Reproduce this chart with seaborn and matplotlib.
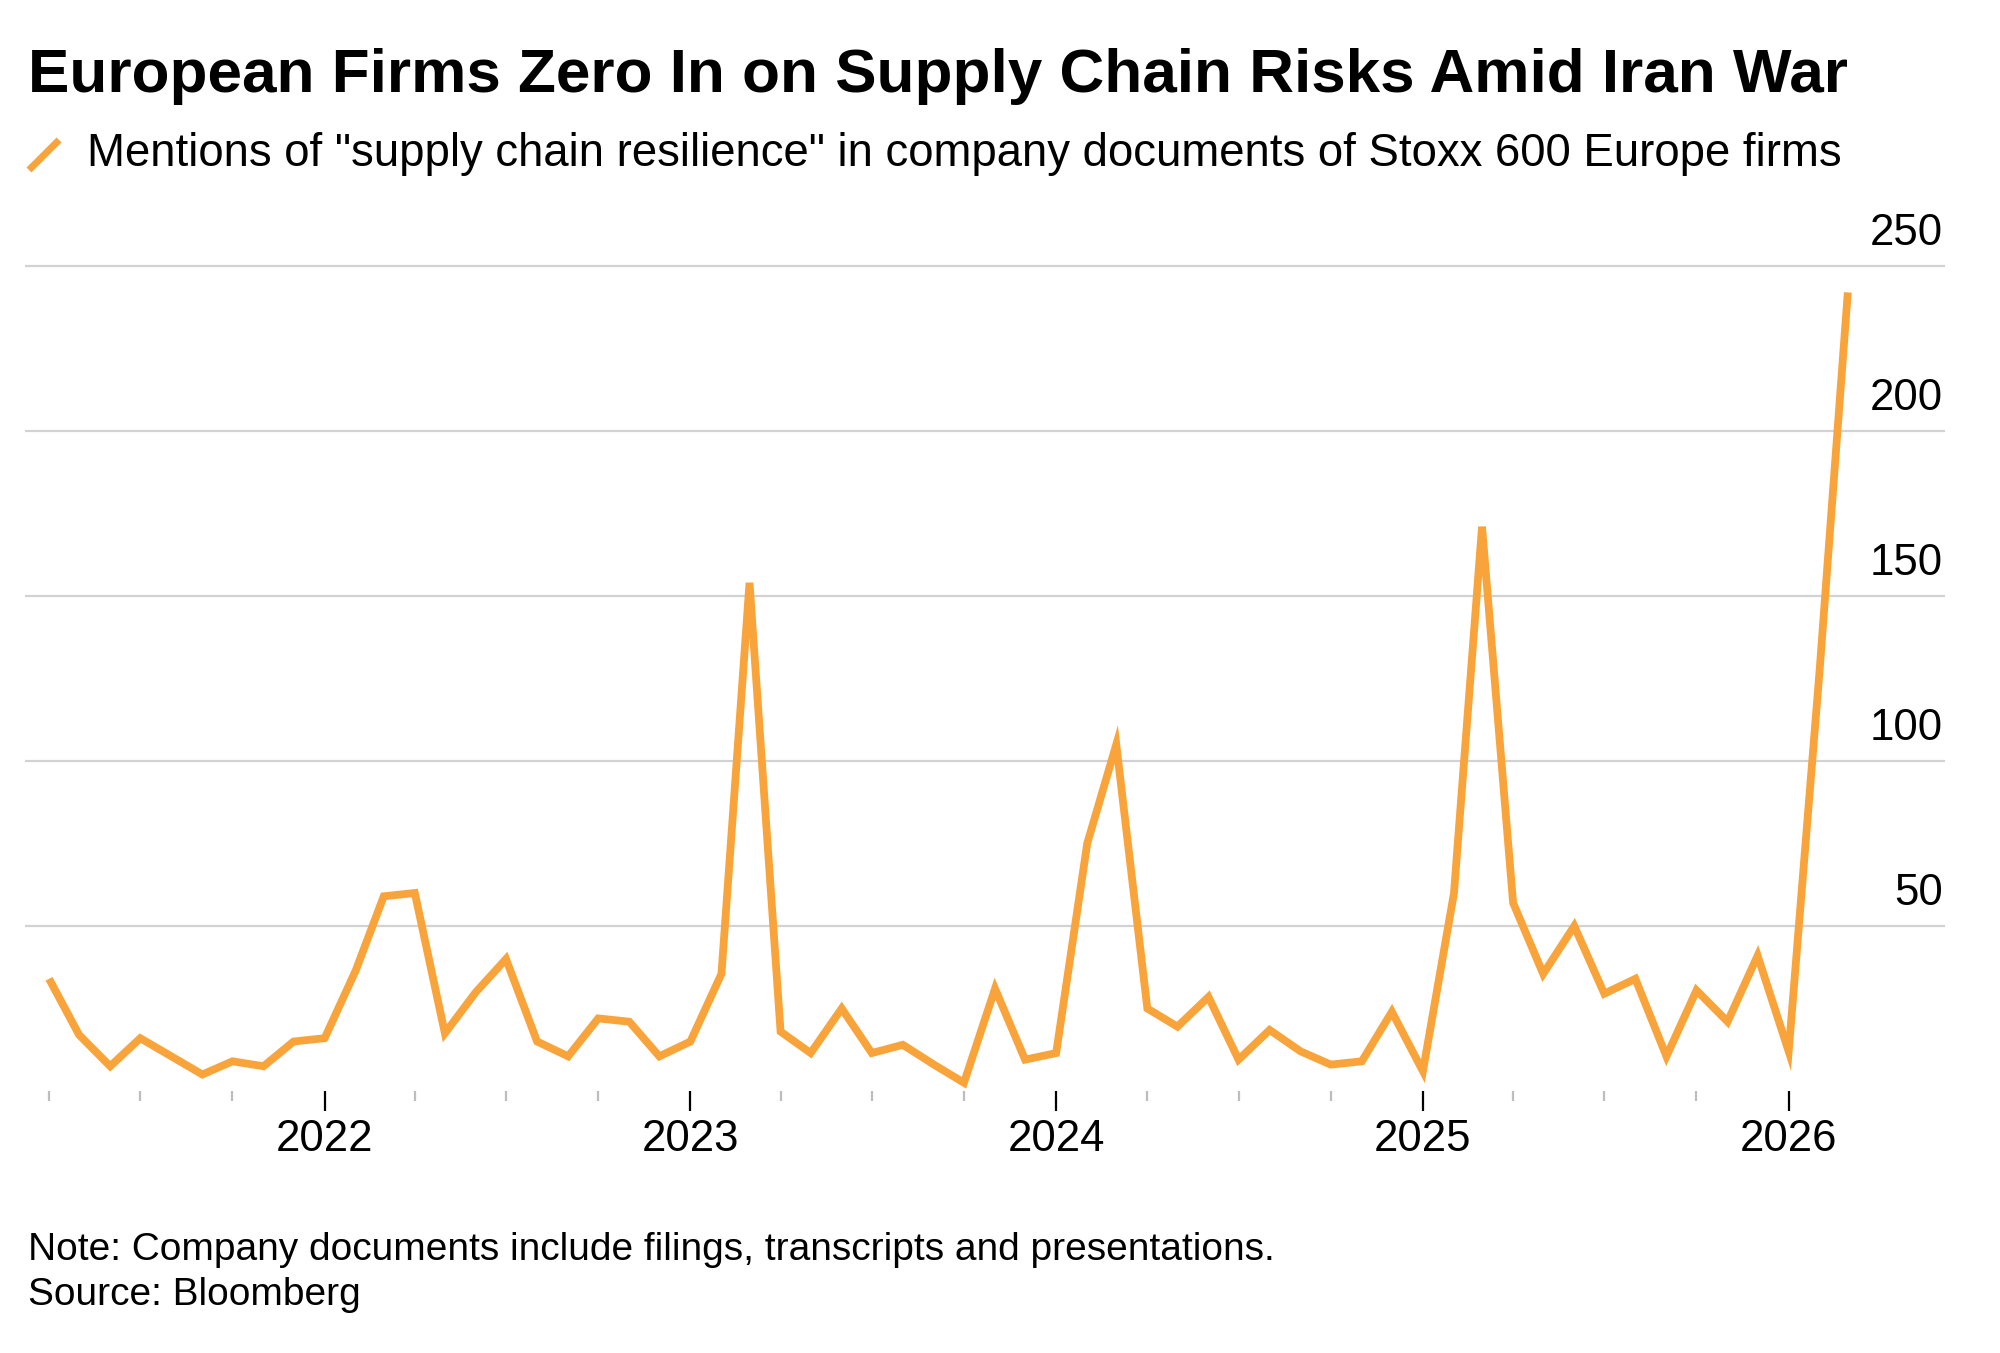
import pandas as pd
import matplotlib
matplotlib.use("Agg")
import matplotlib.pyplot as plt
import matplotlib.transforms as mtransforms
from matplotlib.lines import Line2D
import seaborn as sns

# --- data (monthly, Apr 2021 - Mar 2026) ---
start_month = "2021-04-01"
mentions_2021 = [34, 17, 7.5, 16, 10.5, 5, 9, 7.5, 15]              # Apr-Dec
mentions_2022 = [16, 36.5, 59, 60, 17.5, 30, 40, 15, 10.5, 22, 21, 10.5]
mentions_2023 = [15, 35.5, 154, 18, 11.5, 25, 11.5, 14, 8, 2.5, 31, 9.5]
mentions_2024 = [11.5, 75, 105, 25, 19.5, 28.5, 9.5, 18.5, 12, 8, 9, 24]
mentions_2025 = [6, 60, 171, 57, 35.5, 50, 29.5, 34, 10.5, 30.5, 21, 41]
mentions_2026 = [12, 128, 242]                                      # Jan-Mar

year_labels = ["2022", "2023", "2024", "2025", "2026"]
y_ticks = [50, 100, 150, 200, 250]

title = "European Firms Zero In on Supply Chain Risks Amid Iran War"
subtitle = 'Mentions of "supply chain resilience" in company documents of Stoxx 600 Europe firms'
note = "Note: Company documents include filings, transcripts and presentations."
source = "Source: Bloomberg"

mentions = (mentions_2021 + mentions_2022 + mentions_2023 +
            mentions_2024 + mentions_2025 + mentions_2026)
months = pd.date_range(start_month, periods=len(mentions), freq="MS")
df = pd.DataFrame({"month": months, "mentions": mentions})

ORANGE = "#F9A43A"
GRID = "#d2d2d2"
W, H, DPI = 2000, 1353, 100
PX_PER_UNIT = 3.3
Y_TOP = 252

sns.set_theme(style="white")
plt.rcParams["font.family"] = ["Liberation Sans", "DejaVu Sans"]

fig = plt.figure(figsize=(W / DPI, H / DPI), dpi=DPI)
fig.patch.set_facecolor("white")

ax_bottom = 1091
ax_top = ax_bottom - Y_TOP * PX_PER_UNIT
ax = fig.add_axes([25 / W, 1 - ax_bottom / H, (1945 - 25) / W, (ax_bottom - ax_top) / H])

sns.lineplot(data=df, x="month", y="mentions", color=ORANGE, lw=5.6, ax=ax)
for ln in ax.lines:
    ln.set_solid_joinstyle("miter")
    ln.set_solid_capstyle("butt")
    ln.set_clip_on(False)

ax.set_xlim(months[0] - pd.Timedelta(days=24), months[-1] + pd.Timedelta(days=97))
ax.set_ylim(0, Y_TOP)
ax.set_xlabel("")
ax.set_ylabel("")

# horizontal grid with labels sitting above the lines on the right
ax.set_yticks(y_ticks)
ax.yaxis.grid(True, color=GRID, lw=1.6)
ax.set_axisbelow(True)
ax.tick_params(axis="y", length=0, labelleft=False, labelright=False)
lbl_offset = mtransforms.ScaledTranslation(-2 / DPI, 21 / DPI, fig.dpi_scale_trans)
for v in y_ticks:
    ax.text(1.0, v, str(v), transform=ax.get_yaxis_transform() + lbl_offset,
            ha="right", va="baseline", fontsize=31.5, color="black")

# year ticks + quarterly minor ticks
ax.set_xticks([pd.Timestamp(f"{y}-01-01") for y in year_labels])
ax.set_xticklabels(year_labels)
quarter_ticks = [m for m in months if m.month in (4, 7, 10)]
ax.set_xticks(quarter_ticks, minor=True)
ax.tick_params(axis="x", which="major", length=14.5, width=1.6, color="black",
               pad=6, labelsize=31.5, labelcolor="black", bottom=True)
ax.tick_params(axis="x", which="minor", length=7.5, width=1.6, color="#bdbdbd", bottom=True)
ax.xaxis.grid(False)
sns.despine(ax=ax, left=True, bottom=True)

# --- header and footer ---
renderer = fig.canvas.get_renderer()


def fit_width(txt, target_px):
    w = txt.get_window_extent(renderer=renderer).width
    txt.set_fontsize(txt.get_fontsize() * target_px / w)


t_title = fig.text(28 / W, 1 - 92 / H, title, fontsize=44, fontweight="bold",
                   ha="left", va="baseline", color="black")
fit_width(t_title, 1818)

fig.add_artist(Line2D([29 / W, 59 / W], [1 - 170 / H, 1 - 140 / H],
                      transform=fig.transFigure, color=ORANGE, lw=5,
                      solid_capstyle="butt"))
t_sub = fig.text(87 / W, 1 - 166 / H, subtitle, fontsize=32,
                 ha="left", va="baseline", color="black")
fit_width(t_sub, 1759)

t_note = fig.text(28 / W, 1 - 1260 / H, note, fontsize=28,
                  ha="left", va="baseline", color="black")
fit_width(t_note, 1246)
fig.text(28 / W, 1 - 1305 / H, source, fontsize=t_note.get_fontsize(),
         ha="left", va="baseline", color="black")

fig.savefig("out.png", dpi=DPI, facecolor="white")
